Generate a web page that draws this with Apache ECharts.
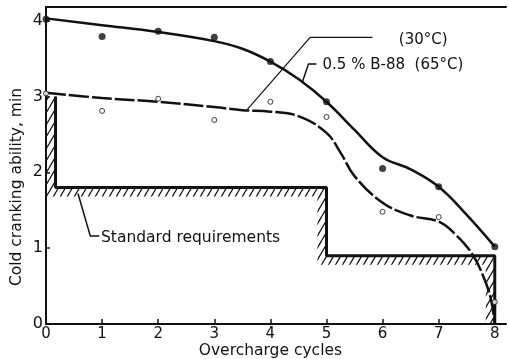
<!DOCTYPE html>
<html>
<head>
<meta charset="utf-8">
<script src="https://cdn.jsdelivr.net/npm/echarts@6/dist/echarts.min.js"></script>
<style>
  html, body { margin: 0; padding: 0; background: #fff; }
  #chart { width: 508px; height: 359px; }
</style>
</head>
<body>
<div id="chart"></div>
<script>
// Measured cold cranking ability (min) after each overcharge cycle
const cycles = [0, 1, 2, 3, 4, 5, 6, 7, 8];
const measured30 = [4.02, 3.79, 3.86, 3.78, 3.46, 2.93, 2.05, 1.81, 1.02];
const measured65 = [3.04, 2.81, 2.97, 2.69, 2.93, 2.73, 1.48, 1.41, 0.29];

// Hand-drawn trend curves through the measurements
const curve30 = [[0, 4.03], [1, 3.94], [2, 3.85], [3, 3.73], [3.5, 3.63], [4, 3.46], [4.5, 3.23],
  [5, 2.93], [5.5, 2.56], [6, 2.2], [6.5, 2.04], [7, 1.81], [7.5, 1.44], [8, 1.02]];
const curve65 = [[0, 3.05], [1, 2.98], [2, 2.93], [3, 2.86], [3.5, 2.82], [4, 2.8], [4.5, 2.74],
  [5, 2.52], [5.25, 2.26], [5.5, 1.95], [6, 1.6], [6.5, 1.43], [7, 1.35], [7.3, 1.18],
  [7.6, 0.92], [7.8, 0.62], [7.93, 0.33], [8, 0]];

// Standard requirement step line
const standardReq = [[0.17, 3.0], [0.17, 1.8], [5, 1.8], [5, 0.9], [8, 0.9], [8, 0]];

// Axis ticks
const xTicks = [0, 1, 2, 3, 4, 5, 6, 7, 8];
const yTicks = [0, 1, 2, 3, 4];

const FONT = 'DejaVu Sans';
const INK = '#111';

// Steep diagonal hatch pattern for the requirement band
function makeHatch() {
  const w = 7, h = 12;
  const c = document.createElement('canvas');
  c.width = w; c.height = h;
  const g = c.getContext('2d');
  g.strokeStyle = INK;
  g.lineWidth = 1.3;
  g.beginPath();
  g.moveTo(0, h); g.lineTo(w, 0);
  g.moveTo(-w, h); g.lineTo(0, 0);
  g.moveTo(w, h); g.lineTo(2 * w, 0);
  g.stroke();
  return c;
}
const hatch = { image: makeHatch(), repeat: 'repeat' };
const BAND = 9;

const chart = echarts.init(document.getElementById('chart'), null, { renderer: 'canvas' });

const option = {
  animation: false,
  backgroundColor: '#fff',
  grid: { left: 46, right: 2, top: 7, bottom: 35 },
  xAxis: [{
    type: 'value', min: 0, max: 8.2, interval: 1,
    axisLine: { show: true, onZero: false, lineStyle: { color: INK, width: 2 } },
    axisTick: { show: true, inside: true, length: 5, customValues: xTicks, lineStyle: { color: INK, width: 1.5 } },
    axisLabel: { customValues: xTicks, color: INK, fontFamily: FONT, fontSize: 15, margin: 3 },
    splitLine: { show: false }
  }, {
    type: 'value', min: 0, max: 8.2, position: 'top',
    axisLine: { show: true, onZero: false, lineStyle: { color: INK, width: 2 } },
    axisTick: { show: false }, axisLabel: { show: false }, splitLine: { show: false }
  }],
  yAxis: {
    type: 'value', min: 0, max: 4.18, interval: 1,
    axisLine: { show: true, onZero: false, lineStyle: { color: INK, width: 2 } },
    axisTick: { show: true, inside: true, length: 4, customValues: yTicks, lineStyle: { color: INK, width: 1.5 } },
    axisLabel: { customValues: yTicks, color: INK, fontFamily: FONT, fontSize: 16, margin: 3 },
    splitLine: { show: false }
  },
  series: [
    {
      type: 'custom',
      silent: true,
      z: 1,
      data: [0],
      renderItem: function (params, api) {
        const top = standardReq.map(p => api.coord(p));
        const n = top.length;
        const inner = top.map((p, i) => {
          if (i === 0 || i === n - 1) return [p[0] - BAND, p[1]];
          return [p[0] - BAND, p[1] + BAND];
        });
        const pts = top.concat(inner.reverse());
        return {
          type: 'polygon',
          shape: { points: pts },
          style: { fill: hatch, stroke: null }
        };
      }
    },
    {
      name: 'Standard requirements',
      type: 'line',
      data: standardReq,
      symbol: 'none',
      z: 2,
      lineStyle: { color: INK, width: 3 }
    },
    {
      name: '30°C curve',
      type: 'line',
      data: curve30,
      smooth: 0.4,
      symbol: 'none',
      z: 3,
      lineStyle: { color: INK, width: 2.5 }
    },
    {
      name: '65°C curve',
      type: 'line',
      data: curve65,
      smooth: 0.4,
      symbol: 'none',
      z: 3,
      lineStyle: { color: INK, width: 2.5, type: [20, 3] }
    },
    {
      name: '30°C',
      type: 'scatter',
      data: cycles.map((c, i) => [c, measured30[i]]),
      symbol: 'circle',
      symbolSize: 7,
      z: 4,
      itemStyle: { color: INK }
    },
    {
      name: '65°C',
      type: 'scatter',
      data: cycles.map((c, i) => [c, measured65[i]]),
      symbol: 'circle',
      symbolSize: 5,
      z: 4,
      itemStyle: { color: '#fff', borderColor: INK, borderWidth: 1 }
    }
  ]
};
chart.setOption(option);

// Annotations placed in data coordinates
function px(p) { return chart.convertToPixel({ gridIndex: 0 }, p); }
function leader(points, width) {
  return {
    type: 'polyline', silent: true, z: 10,
    shape: { points: points.map(px) },
    style: { stroke: INK, lineWidth: width || 1, fill: null }
  };
}
function label(text, at, size) {
  const p = px(at);
  return {
    type: 'text', silent: true, z: 10, x: p[0], y: p[1],
    style: { text: text, fill: INK, font: (size || 15) + 'px "' + FONT + '"', align: 'left', verticalAlign: 'middle' }
  };
}
const xName = px([4, 0]);
chart.setOption({
  graphic: [
    leader([[3.59, 2.83], [4.71, 3.78], [5.82, 3.78]], 1.2),
    label('(30°C)', [6.29, 3.75]),
    leader([[4.57, 3.19], [4.68, 3.43], [4.82, 3.43]], 1.5),
    label('0.5 % B-88  (65°C)', [4.93, 3.41]),
    leader([[0.57, 1.72], [0.79, 1.16], [0.95, 1.16]], 1.5),
    label('Standard requirements', [0.98, 1.14], 15.5),
    {
      type: 'text', silent: true, x: xName[0], y: 351,
      style: { text: 'Overcharge cycles', fill: INK, font: '15.5px "' + FONT + '"', align: 'center', verticalAlign: 'middle' }
    },
    {
      type: 'text', silent: true, x: 17, y: 187, rotation: Math.PI / 2,
      style: { text: 'Cold cranking ability, min', fill: INK, font: '15.5px "' + FONT + '"', align: 'center', verticalAlign: 'middle' }
    }
  ]
});
</script>
</body>
</html>
